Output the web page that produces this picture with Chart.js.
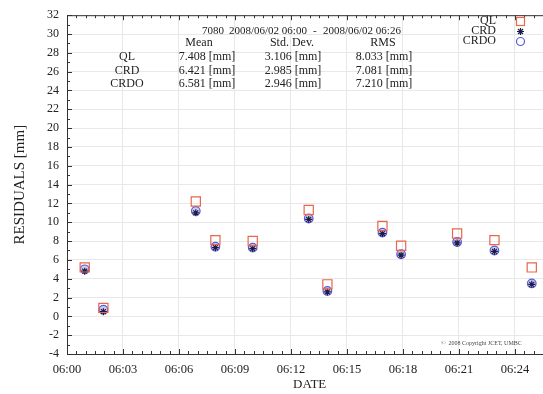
<!DOCTYPE html>
<html>
<head>
<meta charset="utf-8">
<script src="https://cdn.jsdelivr.net/npm/chart.js@4.4.1/dist/chart.umd.min.js"></script>
<style>
  html, body { margin: 0; padding: 0; background: #fff; overflow: hidden; }
  #wrap { width: 560px; height: 394px; }
</style>
</head>
<body>
<div id="wrap"><canvas id="chart" width="560" height="394"></canvas></div>
<script>
/* ── Data (minutes after 06:00, residuals in mm) ─────── */
const minutes    = [0.95, 1.95, 6.9, 7.95, 9.95, 12.95, 13.95, 16.9, 17.9, 20.9, 22.9, 24.9];
const qlValues   = [5.2, 0.9, 12.2, 8.1, 8.0, 11.3, 3.4, 9.6, 7.5, 8.8, 8.1, 5.2];
const crdValues  = [4.8, 0.5, 11.0, 7.3, 7.2, 10.3, 2.6, 8.8, 6.5, 7.8, 6.9, 3.4];
const crdoValues = [5.0, 0.7, 11.2, 7.4, 7.3, 10.4, 2.7, 8.9, 6.6, 7.9, 7.0, 3.5];

const seriesNames = ["QL", "CRD", "CRDO"];
const meanVals    = ["7.408", "6.421", "6.581"];
const stdVals     = ["3.106", "2.985", "2.946"];
const rmsVals     = ["8.033", "7.081", "7.210"];
const headerParts = ["7080", "2008/06/02 06:00", "-", "2008/06/02 06:26"];

const FONT = '"Liberation Serif", "DejaVu Serif", serif';
const COL_QL = "#e8664a", COL_CRD = "#1c1c44", COL_CRDO = "#5a5ad8";

function pts(vals) { return minutes.map((m, i) => ({ x: m, y: vals[i] })); }

/* ── Frame, inward ticks, stats block, legend ────────── */
const decor = {
  id: "decor",
  afterDraw(chart) {
    const { ctx, chartArea: a, scales: { x, y } } = chart;
    ctx.save();
    ctx.strokeStyle = "#333";
    ctx.lineWidth = 1;
    ctx.beginPath();
    ctx.moveTo(a.left + 0.5, a.top + 0.5); ctx.lineTo(a.right, a.top + 0.5);
    ctx.moveTo(a.left + 0.5, a.top); ctx.lineTo(a.left + 0.5, a.bottom + 0.5);
    ctx.moveTo(a.left, a.bottom + 0.5); ctx.lineTo(a.right, a.bottom + 0.5);
    for (let m = 0; m <= 26; m += 0.5) {
      const px = Math.round(x.getPixelForValue(m)) + 0.5;
      const len = m % 3 === 0 ? 5 : 3;
      ctx.moveTo(px, a.bottom); ctx.lineTo(px, a.bottom - len);
      ctx.moveTo(px, a.top); ctx.lineTo(px, a.top + len);
    }
    for (let v = -4; v <= 32; v += 1) {
      const py = Math.round(y.getPixelForValue(v)) + 0.5;
      const len = v % 2 === 0 ? 5 : 3;
      ctx.moveTo(a.left, py); ctx.lineTo(a.left + len, py);
    }
    ctx.stroke();

    // stats block
    ctx.fillStyle = "#222";
    ctx.textBaseline = "middle";
    ctx.font = "11px " + FONT;
    ctx.textAlign = "left";
    [202, 229, 313, 323].forEach((lx, i) => ctx.fillText(headerParts[i], lx, 31));
    ctx.font = "12px " + FONT;
    ctx.textAlign = "center";
    ctx.fillText("Mean", 199, 43);
    ctx.fillText("Std. Dev.", 292, 43);
    ctx.fillText("RMS", 383, 43);
    seriesNames.forEach((n, i) => {
      const ty = 57 + i * 13.5;
      ctx.fillText(n, 127, ty);
      ctx.fillText(meanVals[i] + " [mm]", 207, ty);
      ctx.fillText(stdVals[i] + " [mm]", 293, ty);
      ctx.fillText(rmsVals[i] + " [mm]", 384, ty);
    });

    // legend
    ctx.textAlign = "right";
    seriesNames.forEach((n, i) => ctx.fillText(n, 496, 21 + i * 10));
    ctx.lineWidth = 1.2;
    ctx.strokeStyle = COL_QL;
    ctx.strokeRect(516.5, 17.5, 8, 8);
    ctx.strokeStyle = COL_CRD;
    ctx.beginPath();
    const sx = 520.5, sy = 31.5;
    ctx.moveTo(sx - 3.5, sy); ctx.lineTo(sx + 3.5, sy);
    ctx.moveTo(sx, sy - 3.5); ctx.lineTo(sx, sy + 3.5);
    ctx.moveTo(sx - 2.5, sy - 2.5); ctx.lineTo(sx + 2.5, sy + 2.5);
    ctx.moveTo(sx - 2.5, sy + 2.5); ctx.lineTo(sx + 2.5, sy - 2.5);
    ctx.stroke();
    ctx.strokeStyle = COL_CRDO;
    ctx.beginPath();
    ctx.arc(520.5, 41.5, 4, 0, Math.PI * 2);
    ctx.stroke();

    // copyright
    ctx.fillStyle = "#444";
    ctx.font = "6px " + FONT;
    ctx.textAlign = "left";
    ctx.fillText("\u00A9  2008 Copyright JCET, UMBC", 441, 343);
    ctx.restore();
  }
};

new Chart(document.getElementById("chart"), {
  type: "scatter",
  data: {
    datasets: [
      { label: "QL", data: pts(qlValues), pointStyle: "rect", pointRadius: 6.5,
        borderColor: COL_QL, backgroundColor: "rgba(0,0,0,0)", pointBorderWidth: 1.2 },
      { label: "CRD", data: pts(crdValues), pointStyle: "star", pointRadius: 3.5,
        borderColor: COL_CRD, backgroundColor: COL_CRD, pointBorderWidth: 1.2 },
      { label: "CRDO", data: pts(crdoValues), pointStyle: "circle", pointRadius: 4.3,
        borderColor: COL_CRDO, backgroundColor: "rgba(90,90,216,0.3)", pointBorderWidth: 1.2 }
    ]
  },
  options: {
    responsive: false,
    animation: false,
    devicePixelRatio: 1,
    layout: { padding: { top: 14, right: 6, left: 0, bottom: 0 } },
    plugins: { legend: { display: false }, tooltip: { enabled: false } },
    scales: {
      x: {
        type: "linear", min: 0, max: 26,
        afterFit: s => { s.height = 40; },
        border: { display: false },
        grid: { color: "#e8e8e8", drawTicks: false },
        ticks: {
          stepSize: 3, includeBounds: false, padding: 8, maxRotation: 0, autoSkip: false,
          color: "#222", font: { family: FONT, size: 12.5 },
          callback: v => "06:" + String(v).padStart(2, "0")
        },
        title: { display: true, text: "DATE", color: "#222",
                 font: { family: FONT, size: 13 }, padding: { top: 0, bottom: 2 } }
      },
      y: {
        min: -4, max: 32,
        afterFit: s => { s.width = 67; },
        border: { display: false },
        grid: { color: "#e8e8e8", drawTicks: false },
        ticks: { stepSize: 2, padding: 8, color: "#222", font: { family: FONT, size: 12 } },
        title: { display: true, text: "RESIDUALS [mm]", color: "#222",
                 font: { family: FONT, size: 15 }, padding: { top: 11, bottom: 0 } }
      }
    }
  },
  plugins: [decor]
});
</script>
</body>
</html>
